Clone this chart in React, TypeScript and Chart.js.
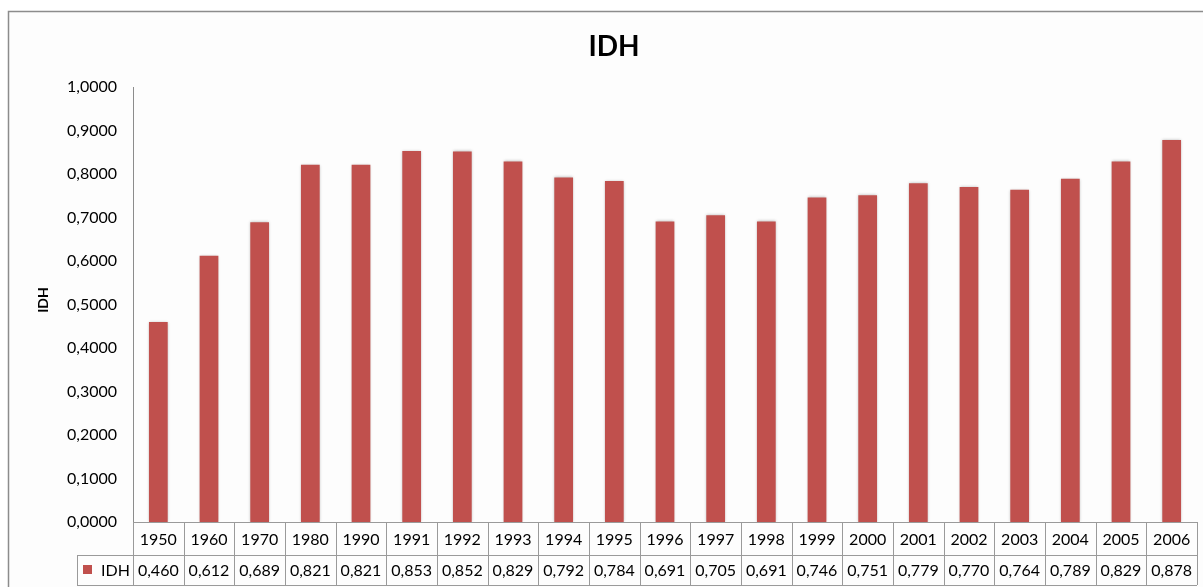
import React, { useEffect, useRef } from "react";
import { Chart, registerables } from "chart.js";

Chart.register(...registerables);

const chartTitle = "IDH";
const seriesName = "IDH";
const categories = ["1950", "1960", "1970", "1980", "1990", "1991", "1992", "1993", "1994", "1995", "1996", "1997", "1998", "1999", "2000", "2001", "2002", "2003", "2004", "2005", "2006"];
const idhValues = [0.460, 0.612, 0.689, 0.821, 0.821, 0.853, 0.852, 0.829, 0.792, 0.784, 0.691, 0.705, 0.691, 0.746, 0.751, 0.779, 0.770, 0.764, 0.789, 0.829, 0.878];
const yMin = 0;
const yMax = 1;
const yStep = 0.1;

const FONT = "Lato, 'Open Sans', sans-serif";
const BAR_COLOR = "#C0504D";
const LINE_COLOR = "#9a9a9a";

const fmt = (v: number, d: number) => v.toFixed(d).replace(".", ",");

const framePlugin = {
  id: "frame",
  beforeDraw(chart: any) {
    const ctx = chart.ctx;
    ctx.save();
    ctx.fillStyle = "#ffffff";
    ctx.fillRect(0, 0, chart.width, chart.height);
    ctx.fillStyle = "#fdfdfd";
    ctx.fillRect(9, 12, chart.width, chart.height);
    ctx.strokeStyle = "#8c8c8c";
    ctx.lineWidth = 1.5;
    ctx.beginPath();
    ctx.moveTo(8.5, chart.height + 5);
    ctx.lineTo(8.5, 11.5);
    ctx.lineTo(chart.width + 5, 11.5);
    ctx.stroke();
    ctx.restore();
  },
  beforeDatasetsDraw(chart: any) {
    const ctx = chart.ctx;
    ctx.save();
    ctx.shadowColor = "rgba(0,0,0,0.28)";
    ctx.shadowBlur = 3;
    ctx.shadowOffsetX = 0;
    ctx.shadowOffsetY = 0;
  },
  afterDatasetsDraw(chart: any) {
    chart.ctx.restore();
  },
  afterDraw(chart: any) {
    const ctx = chart.ctx;
    const area = chart.chartArea;
    const xs = chart.scales.x;
    const n = categories.length;
    const cw = (area.right - area.left) / n;
    const top = area.bottom;
    const mid = top + 33;
    const bot = top + 63;
    const legendLeft = 77;

    ctx.save();
    // title
    ctx.fillStyle = "#000";
    ctx.font = `bold 28px ${FONT}`;
    ctx.textAlign = "center";
    ctx.textBaseline = "middle";
    ctx.fillText(chartTitle, 614, 47);

    // y axis title
    ctx.save();
    ctx.translate(43, 300);
    ctx.rotate(-Math.PI / 2);
    ctx.font = `bold 14px ${FONT}`;
    ctx.fillText(seriesName, 0, 0);
    ctx.restore();

    // table lines
    ctx.strokeStyle = LINE_COLOR;
    ctx.lineWidth = 1;
    ctx.beginPath();
    ctx.moveTo(area.left, top + 0.5);
    ctx.lineTo(area.right, top + 0.5);
    ctx.moveTo(legendLeft, mid + 0.5);
    ctx.lineTo(area.right, mid + 0.5);
    ctx.moveTo(legendLeft, bot + 0.5);
    ctx.lineTo(area.right, bot + 0.5);
    ctx.moveTo(legendLeft + 0.5, mid);
    ctx.lineTo(legendLeft + 0.5, bot);
    for (let i = 0; i <= n; i++) {
      const x = Math.round(area.left + i * cw) + 0.5;
      ctx.moveTo(x, top);
      ctx.lineTo(x, bot);
    }
    ctx.stroke();

    // table text
    ctx.fillStyle = "#000";
    ctx.font = `16px ${FONT}`;
    ctx.textAlign = "center";
    ctx.textBaseline = "middle";
    categories.forEach((c, i) => {
      const x = xs.getPixelForValue(i);
      ctx.fillText(c, x, (top + mid) / 2 + 1);
      ctx.fillText(fmt(idhValues[i], 3), x, (mid + bot) / 2 + 1);
    });

    // legend key
    ctx.fillStyle = BAR_COLOR;
    ctx.fillRect(83, 565, 9, 9);
    ctx.fillStyle = "#000";
    ctx.textAlign = "left";
    ctx.fillText(seriesName, 101, (mid + bot) / 2 + 1);
    ctx.restore();
  },
};

export default function App() {
  const canvasRef = useRef<HTMLCanvasElement | null>(null);

  useEffect(() => {
    if (!canvasRef.current) return;
    const chart = new Chart(canvasRef.current, {
      type: "bar",
      data: {
        labels: categories,
        datasets: [
          {
            label: seriesName,
            data: idhValues,
            backgroundColor: BAR_COLOR,
            borderWidth: 0,
            categoryPercentage: 1,
            barPercentage: 0.37,
          },
        ],
      },
      options: {
        animation: false,
        responsive: false,
        maintainAspectRatio: false,
        layout: { padding: { left: 0, top: 87, right: 6, bottom: 65 } },
        plugins: {
          legend: { display: false },
          title: { display: false },
          tooltip: { enabled: false },
        },
        scales: {
          x: {
            display: false,
            offset: true,
            grid: { display: false },
          },
          y: {
            min: yMin,
            max: yMax,
            afterFit: (scale: any) => {
              scale.width = 133;
            },
            grid: { display: false, drawTicks: false },
            border: { display: true, color: "#8c8c8c", width: 1 },
            ticks: {
              stepSize: yStep,
              padding: 16,
              color: "#000",
              font: { family: FONT, size: 16 },
              callback: (v: any) => fmt(Number(v), 4),
            },
          },
        },
      },
      plugins: [framePlugin],
    });
    return () => chart.destroy();
  }, []);

  return (
    <div style={{ position: "absolute", left: 0, top: 0, width: 1203, height: 587 }}>
      <canvas ref={canvasRef} width={1203} height={587} style={{ display: "block" }} />
    </div>
  );
}
